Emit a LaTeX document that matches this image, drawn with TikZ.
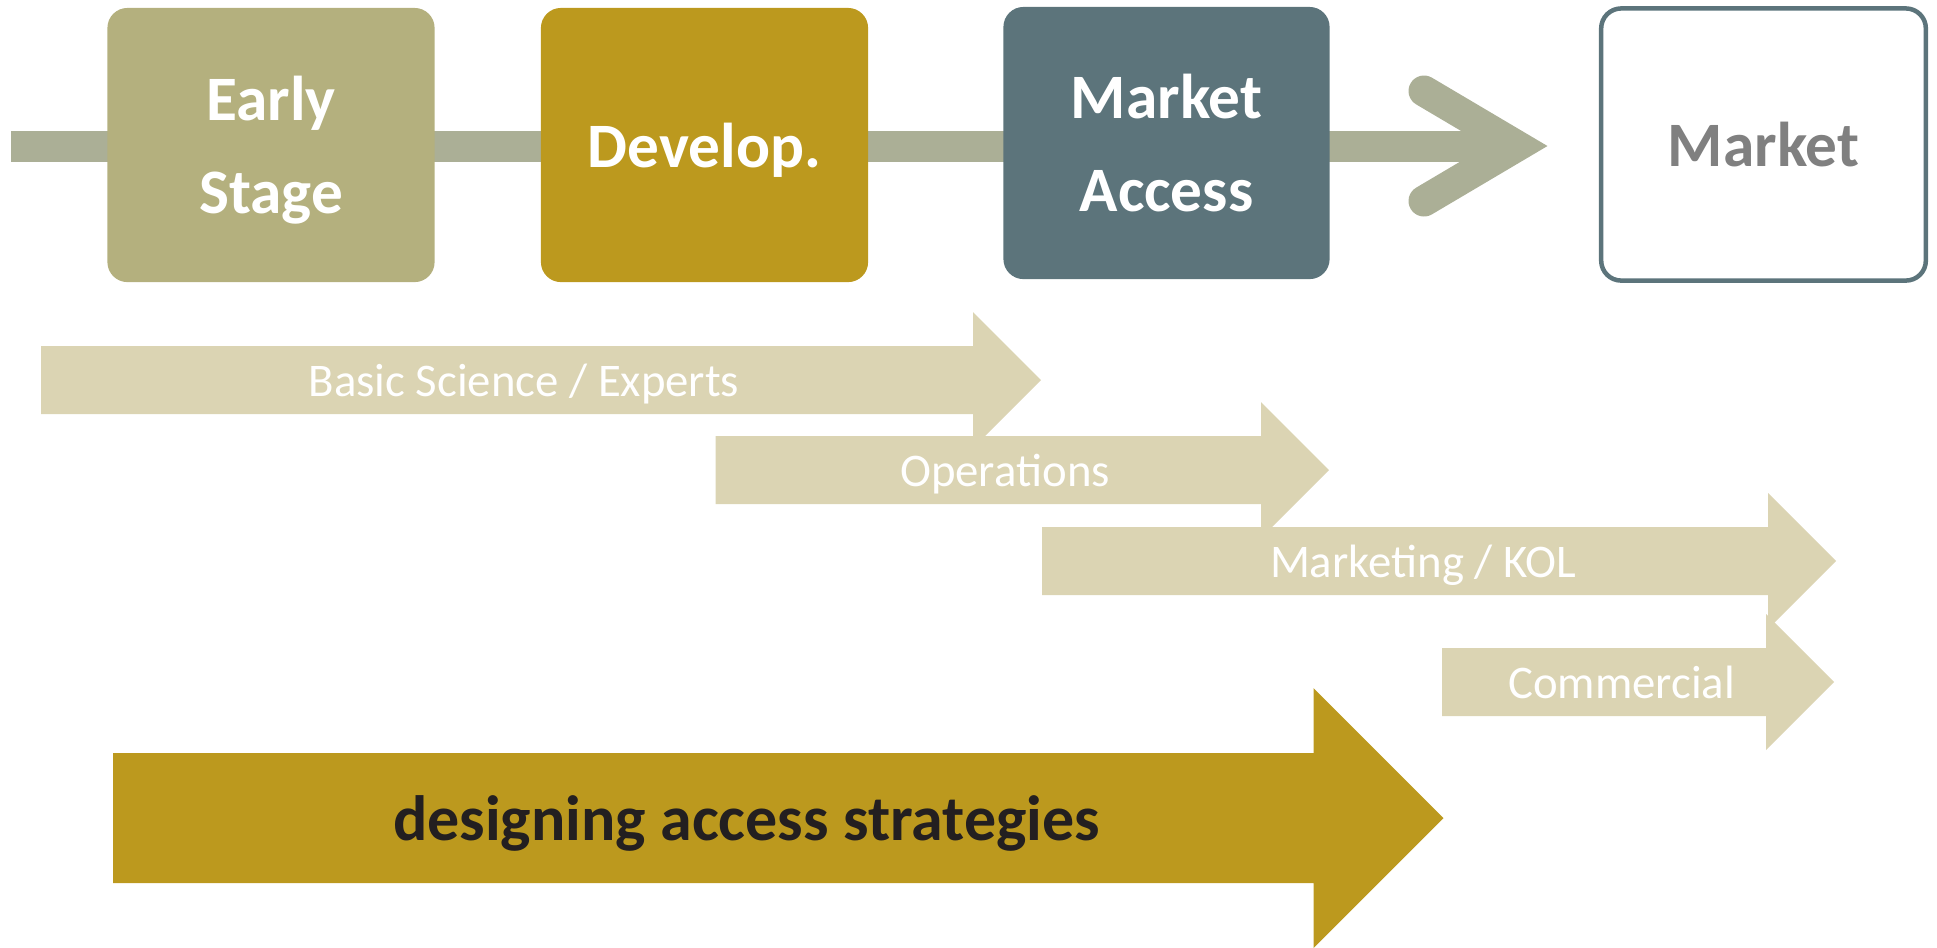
\documentclass[tikz,border=0pt]{standalone}
\usepackage{fontspec}
\setmainfont{Carlito}
\definecolor{barcol}{HTML}{ABAF96}
\definecolor{earlycol}{HTML}{B4B07E}
\definecolor{goldcol}{HTML}{BC991E}
\definecolor{accesscol}{HTML}{5C747B}
\definecolor{flowcol}{HTML}{DBD4B3}
\definecolor{darktext}{HTML}{231F20}
\tikzset{
  stagebox/.style={rounded corners=0.2cm, minimum width=3.27cm, minimum height=2.74cm,
    inner sep=0pt, align=center, text=white, text depth=0pt, font=\fontsize{18}{26.5}\selectfont\bfseries},
  timeline/.style={barcol, line width=0.31cm},
  flowtext/.style={anchor=base, text=white, font=\fontsize{13.3}{16}\selectfont},
}
\begin{document}
\begin{tikzpicture}[x=0.01cm, y=-0.01cm]
  \useasboundingbox (0,0) rectangle (1937,947);
  \coordinate (start) at (11,146);
  \coordinate (tip) at (1517,146);
  \draw[timeline] (start) -- (tip);
  \draw[timeline, line cap=round, line join=miter] (1424,91) -- (tip) -- (1424,201);
  \node[stagebox, fill=earlycol] (early) at (271,145) {Early\\Stage};
  \node[stagebox, fill=goldcol] (develop) at (704.5,145) {Develop.};
  \node[stagebox, fill=accesscol, minimum width=3.26cm, minimum height=2.72cm] (access) at (1166.5,143) {Market\\Access};
  \node[stagebox, draw=accesscol, line width=0.045cm, fill=white, text=gray,
    minimum width=3.245cm, minimum height=2.72cm] (market) at (1763.5,144.5) {Market};
  \foreach \n/\xl/\xb/\ym/\xt/\lab in {basic/41/973/380/524/{Basic Science / Experts},
      ops/715.5/1261/470/1005/Operations,
      kol/1042/1768/561/1423/{Marketing / KOL},
      comm/1442/1766/682/1621.5/Commercial}{
    \fill[flowcol] (\xl,\ym-34) -- (\xb,\ym-34) -- (\xb,\ym-68) -- (\xb+68,\ym)
      -- (\xb,\ym+68) -- (\xb,\ym+34) -- (\xl,\ym+34) -- cycle;
    \node[flowtext] (\n) at (\xt,\ym+16) {\lab};
  }
  \fill[goldcol] (113,753) -- (1313.5,753) -- (1313.5,688) -- (1443.5,818)
    -- (1313.5,948) -- (1313.5,883) -- (113,883) -- cycle;
  \node[anchor=base, text=darktext, font=\fontsize{18.2}{21}\selectfont\bfseries] (strategy) at (746.6,840) {designing access strategies};
\end{tikzpicture}
\end{document}
